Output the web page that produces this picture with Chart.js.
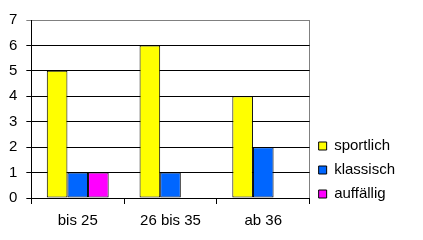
<!DOCTYPE html>
<html>
<head>
<meta charset="utf-8">
<script src="https://cdn.jsdelivr.net/npm/chart.js@4"></script>
<style>
  body { margin: 0; background: #fff; }
  #wrap { width: 423px; height: 240px; }
</style>
</head>
<body>
<div id="wrap"><canvas id="barChart"></canvas></div>
<script>
// chart data
const categories = ['bis 25', '26 bis 35', 'ab 36'];
const sportlich = [5, 6, 4];
const klassisch = [1, 1, 2];
const auffaellig = [1, 0, 0];
const yTicks = [0, 1, 2, 3, 4, 5, 6, 7];

Chart.defaults.font.family = '"Liberation Sans", Arial, sans-serif';
Chart.defaults.font.size = 15;
Chart.defaults.color = '#000';

let ctx = document.getElementById('barChart').getContext('2d');
new Chart(ctx, {
    type: 'bar',
    data: {
        labels: categories,
        datasets: [
            { label: 'sportlich', data: sportlich, backgroundColor: '#ffff00' },
            { label: 'klassisch', data: klassisch, backgroundColor: '#0066ff' },
            { label: 'auffällig', data: auffaellig, backgroundColor: '#ff00ff' }
        ].map(d => Object.assign(d, {
            borderColor: '#000',
            borderWidth: 1,
            borderSkipped: false,
            categoryPercentage: 0.667,
            barPercentage: 1
        }))
    },
    options: {
        responsive: true,
        maintainAspectRatio: false,
        animation: false,
        layout: { padding: { top: 20, left: 0, right: 18, bottom: 2 } },
        plugins: {
            tooltip: { enabled: false },
            legend: {
                position: 'right',
                title: { display: true, text: '', padding: { top: 64, bottom: 0 } },
                labels: {
                    boxWidth: 8,
                    boxHeight: 8,
                    padding: 9,
                    color: '#000'
                }
            }
        },
        scales: {
            x: {
                grid: {
                    display: true,
                    drawOnChartArea: true,
                    drawTicks: true,
                    tickLength: 6,
                    // only the right frame edge is visible in the plot, in grey
                    color: c => c.type === 'scale' ? '#808080' : 'rgba(0,0,0,0)',
                    tickColor: '#000',
                    offset: true
                },
                border: { color: '#000', width: 1 },
                ticks: { padding: 8 }
            },
            y: {
                min: 0,
                max: 7,
                afterBuildTicks: axis => { axis.ticks = yTicks.map(v => ({ value: v })); },
                grid: {
                    color: c => (c.tick && c.tick.value === 7) ? '#808080' : '#000',
                    tickLength: 5
                },
                border: { color: '#000', width: 1 },
                ticks: { padding: 9 }
            }
        }
    }
});
</script>
</body>
</html>
